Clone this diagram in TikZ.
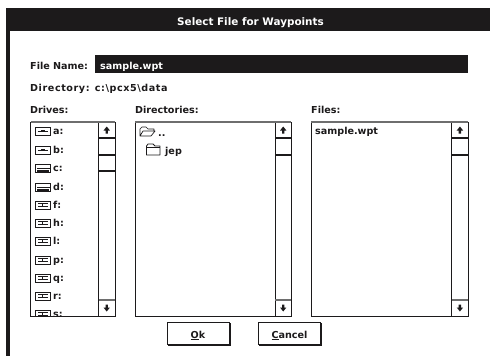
\documentclass[tikz,border=0pt]{standalone}
\usepackage{fontspec}
\setmainfont{DejaVu Sans}
\definecolor{ink}{HTML}{1C1A1B}
\definecolor{edge}{HTML}{6E6E6E}
\tikzset{
  x=1pt,y=-1pt,
  ui/.style={anchor=base west,inner sep=0pt,text=ink,font=\fontsize{9.6}{12}\bfseries},
  uiwhite/.style={ui,text=white},
  listbox/.style={draw=ink,line width=.8pt,fill=white},
  topedge/.style={draw=edge,line width=1.4pt},
  sbar/.style={draw=ink,line width=.8pt},
  thick rule/.style={draw=ink,line width=1.1pt},
  arrowglyph/.style={fill=ink,draw=none},
  btn/.style={draw=ink,line width=.8pt,fill=white},
  btnshadow/.style={fill=ink,draw=none},
  iconline/.style={draw=ink,line width=.9pt,fill=white},
}
\newcommand{\uparrowglyph}[2]{\fill[arrowglyph] (#1-3.2,#2+.5) -- (#1,#2-3.5) -- (#1+3.2,#2+.5) -- (#1+1.2,#2+.5) -- (#1+1.2,#2+3.5) -- (#1-1.2,#2+3.5) -- (#1-1.2,#2+.5) -- cycle;}
\newcommand{\downarrowglyph}[2]{\fill[arrowglyph] (#1-3.2,#2-.5) -- (#1,#2+3.5) -- (#1+3.2,#2-.5) -- (#1+1.2,#2-.5) -- (#1+1.2,#2-3.5) -- (#1-1.2,#2-3.5) -- (#1-1.2,#2-.5) -- cycle;}
% list box: left, right, scrollbar left, thumb top, thumb bottom
\newcommand{\listpanel}[5]{%
  \draw[listbox] (#1,122) rectangle (#2,316);
  \draw[sbar] (#3,122) -- (#3,316);
  \draw[thick rule] (#3,#4) -- (#2,#4);
  \draw[thick rule] (#3,#5) -- (#2,#5);
  \draw[thick rule] (#3,138) -- (#2,138);
  \draw[topedge] (#3,300) -- (#2,300);
  \draw[topedge] (#1,122) -- (#2,122);
  \uparrowglyph{#3+8.2}{130}
  \downarrowglyph{#3+8.2}{308}
}
\begin{document}
\begin{tikzpicture}
\useasboundingbox (0,0) rectangle (490,356);
\fill[white] (0,0) rectangle (490,356);
% window frame
\fill[ink] (6,8) rectangle (490,31);
\fill[ink] (6,31) rectangle (10,356);
\node[uiwhite,anchor=base] (title) at (250.5,25) {\fontsize{10.4}{12}\bfseries Select File for Waypoints};
% file name
\node[ui] (fnlabel) at (30,69) {File Name:};
\fill[ink] (95,55) rectangle (468,73);
\node[uiwhite] (fnvalue) at (100,69) {sample.wpt};
\node[ui] (dirlabel) at (30,91) {\addfontfeature{LetterSpace=6}Directory: c:\textbackslash pcx5\textbackslash data};
\node[ui] (driveslabel) at (30,113) {Drives:};
\node[ui] (dirslabel) at (135,113) {Directories:};
\node[ui] (fileslabel) at (311,113) {Files:};
% panels
\listpanel{30.5}{115}{98.5}{155}{171}
\listpanel{135}{291}{275}{138}{155}
\listpanel{311}{468}{451.7}{138}{155}
% drives
\begin{scope}
\clip (31,123) rectangle (98,315.5);
\foreach \l/\y in {a:/131,b:/150}{
  \draw[iconline] (35.5,\y-4) rectangle (50,\y+4);
  \draw[ink,line width=.9pt] (37.5,\y) -- (48,\y);
  \fill[ink] (41,\y-1.4) rectangle (44.5,\y+1.4);
  \node[ui] at (53,\y+3.5) {\l};
}
\foreach \l/\y in {c:/168,d:/187}{
  \draw[iconline] (35.5,\y-4) rectangle (50,\y+4);
  \draw[ink,line width=.8pt] (37,\y+.2) -- (50,\y+.2);
  \fill[ink] (37,\y+2) rectangle (49,\y+3.6);
  \node[ui] at (53,\y+3.5) {\l};
}
\foreach \l/\y in {f:/205,h:/223,l:/241,p:/260,q:/278,r:/296,s:/314}{
  \draw[iconline] (35.5,\y-4) rectangle (50,\y+4);
  \draw[ink,line width=.9pt] (38,\y-1.5) -- (47.5,\y-1.5);
  \draw[ink,line width=.9pt] (42.7,\y-1.5) -- (42.7,\y+1.5);
  \draw[ink,line width=.9pt] (38,\y+1.5) -- (47.5,\y+1.5);
  \node[ui] at (53,\y+3.5) {\l};
}
\end{scope}
% directories
\draw[ink,line width=.7pt,line join=round] (140,136) -- (140,129) -- (142,127) -- (146,127) -- (148,129) -- (154,129) -- (154,131) -- (143,131) -- (140,136) -- (151,136) -- (155,131) -- (154,131);
\node[ui] (updir) at (158,136) {..};
\draw[ink,line width=.8pt,line join=round,fill=white] (146.5,155) -- (146.5,146) -- (148,144) -- (153,144) -- (155,146) -- (160,146) -- (160,155) -- cycle;
\draw[ink,line width=.6pt] (146.5,147) -- (160,147);
\node[ui] (jep) at (165,154) {jep};
% files
\node[ui] (filename) at (315,134) {sample.wpt};
% buttons
\fill[btnshadow] (168,323) rectangle (231,346);
\draw[btn] (167,322) rectangle (229,344);
\node[ui,anchor=base] (ok) at (198,338) {\underline{O}k};
\fill[btnshadow] (259,323) rectangle (322,346);
\draw[btn] (258.5,322) rectangle (320,344);
\node[ui,anchor=base] (cancel) at (289.5,338) {\underline{C}ancel};
\end{tikzpicture}
\end{document}
